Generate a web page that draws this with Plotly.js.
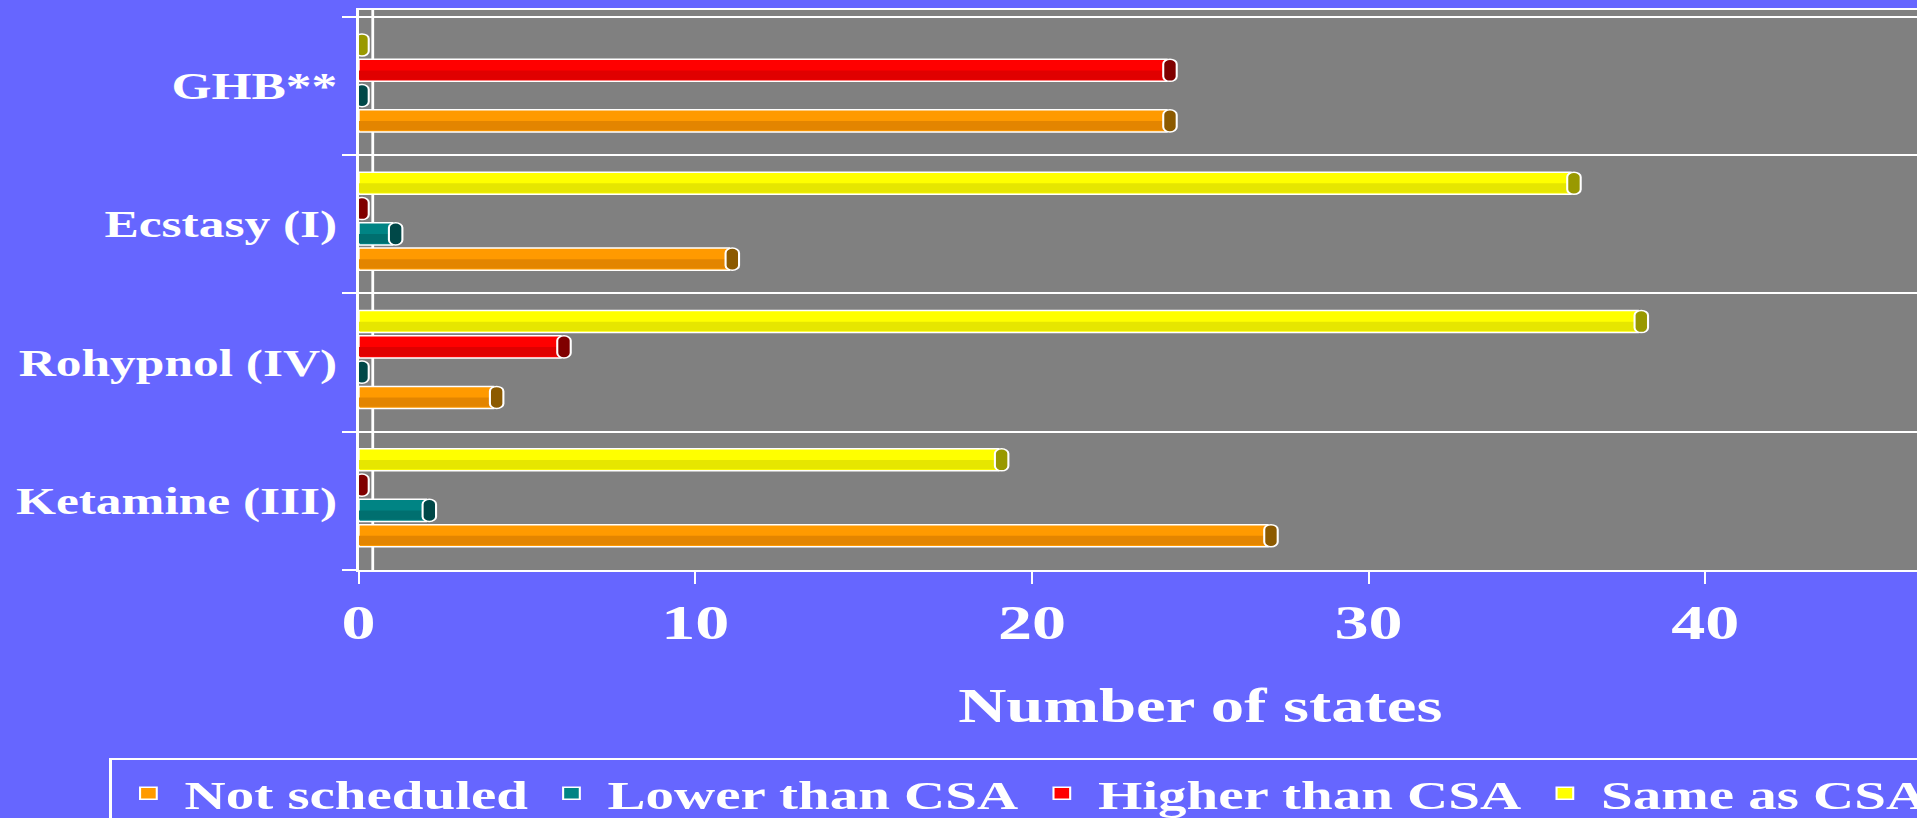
<!DOCTYPE html>
<html><head><meta charset="utf-8">
<script src="https://cdn.plot.ly/plotly-3.0.1.min.js"></script>
<style>
html,body{margin:0;padding:0;overflow:hidden;background:#6666FF;width:1917px;height:818px}
#wrap{width:1917px;height:818px;overflow:hidden;position:relative}
#chart{position:absolute;left:0;top:0;width:1490px;height:818px;transform:scaleX(1.39);transform-origin:0 0}
</style></head><body><div id="wrap"><div id="chart"></div></div>
<script>
// ---- data ----
const categories = ['Ketamine (III)', 'Rohypnol (IV)', 'Ecstasy (I)', 'GHB**'];
const seriesNames = ['Not scheduled', 'Lower than CSA', 'Higher than CSA', 'Same as CSA'];
const notScheduled = [27, 4, 11, 24];
const lowerThanCSA = [2, 0, 1, 0];
const higherThanCSA = [0, 6, 0, 24];
const sameAsCSA = [19, 38, 36, 0];
const xTickVals = [0, 10, 20, 30, 40, 50];
const xTickText = ['0', '10', '20', '30', '40', '50'];

// ---- styles ----
const bodyColors = ['#FF9A00', '#008484', '#FF0000', '#FFFF00'];
const shadeColors = ['#E38500', '#006F6F', '#E00000', '#E6E600'];
const capColors = ['#8C5A00', '#004848', '#800000', '#999900'];
const barOffsets = [-0.332, -0.149, 0.034, 0.217];
const barWidth = 0.16;
const capBack = 0.1, capLen = 0.4;
const backWallX = 0.42;
const serif = 'Liberation Serif, Times New Roman, serif';

const allSeries = [notScheduled, lowerThanCSA, higherThanCSA, sameAsCSA];
const traces = [];
allSeries.forEach((vals, i) => {
  traces.push({
    type: 'bar', orientation: 'h', name: seriesNames[i],
    y: categories, x: vals,
    offset: barOffsets[i], width: barWidth,
    marker: {color: bodyColors[i], line: {color: '#FFFFFF', width: 1.5}},
    hoverinfo: 'skip'
  });
});
allSeries.forEach((vals, i) => {
  traces.push({
    type: 'bar', orientation: 'h', showlegend: false,
    y: categories, x: vals,
    offset: barOffsets[i] + 0.012, width: barWidth * 0.42,
    marker: {color: shadeColors[i], line: {width: 0}},
    hoverinfo: 'skip'
  });
});
allSeries.forEach((vals, i) => {
  traces.push({
    type: 'bar', orientation: 'h', showlegend: false,
    y: categories, x: vals.map(() => capLen), base: vals.map(v => v - capBack),
    offset: barOffsets[i], width: barWidth,
    marker: {color: capColors[i], line: {color: '#FFFFFF', width: 1.5}, cornerradius: 5},
    hoverinfo: 'skip'
  });
});

const layout = {
  width: 1490, height: 818,
  paper_bgcolor: '#6666FF', plot_bgcolor: '#808080',
  margin: {l: 258, r: 21, t: 10, b: 248, autoexpand: false},
  barmode: 'overlay',
  showlegend: true,
  shapes: [{
    type: 'line', layer: 'below', xref: 'x', yref: 'paper',
    x0: backWallX, x1: backWallX, y0: 0, y1: 1,
    line: {color: '#FFFFFF', width: 2}
  }],
  xaxis: {
    range: [0, 50], tickvals: xTickVals, ticktext: xTickText,
    showgrid: false, zeroline: false,
    showline: true, linecolor: '#FFFFFF', linewidth: 2, mirror: true,
    ticks: 'outside', ticklen: 12, tickwidth: 1.5, tickcolor: '#FFFFFF',
    ticklabelstandoff: -4,
    tickfont: {family: serif, size: 49, color: '#FFFFFF', weight: 'bold'},
    title: {text: 'Number of states', standoff: 40,
            font: {family: serif, size: 48, color: '#FFFFFF', weight: 'bold'}}
  },
  yaxis: {
    type: 'category', categoryorder: 'array', categoryarray: categories,
    range: [-0.5, 3.55],
    tickson: 'boundaries', ticks: 'outside', ticklen: 10, tickwidth: 2, tickcolor: '#FFFFFF',
    showgrid: true, gridcolor: '#FFFFFF', gridwidth: 2,
    showline: true, linecolor: '#FFFFFF', linewidth: 2,
    ticklabelstandoff: 6,
    tickfont: {family: serif, size: 37, color: '#FFFFFF', weight: 'bold'}
  },
  legend: {
    orientation: 'h', xref: 'paper', yref: 'paper',
    x: -0.148, xanchor: 'left', y: -0.3357, yanchor: 'top',
    itemwidth: 42,
    bgcolor: '#6666FF', bordercolor: '#FFFFFF', borderwidth: 2,
    font: {family: serif, size: 41, color: '#FFFFFF', weight: 'bold'}
  }
};

Plotly.newPlot('chart', traces, layout, {displayModeBar: false, staticPlot: true});
</script>
</body></html>
